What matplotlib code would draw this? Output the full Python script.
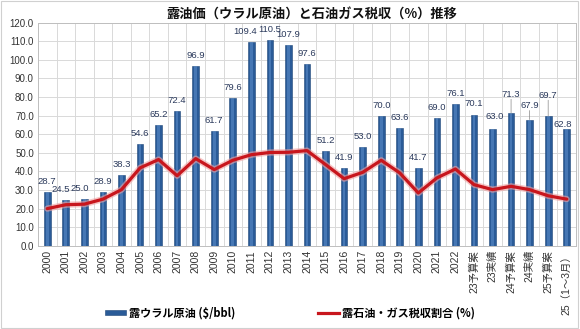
import matplotlib
matplotlib.use("Agg")
import matplotlib.pyplot as plt
import matplotlib.patheffects as pe
from matplotlib.patches import Rectangle
import numpy as np

plt.rcParams['font.family'] = ['Liberation Sans', 'Noto Sans CJK JP', 'DejaVu Sans']

categories = [str(y) for y in range(2000, 2023)] + [
    "23予算案", "23実績", "24予算案", "24実績", "25予算案", "25（1～3月）"]
urals_price = [28.7, 24.5, 25.0, 28.9, 38.3, 54.6, 65.2, 72.4, 96.9, 61.7,
               79.6, 109.4, 110.5, 107.9, 97.6, 51.2, 41.9, 53.0, 70.0, 63.6,
               41.7, 69.0, 76.1, 70.1, 63.0, 71.3, 67.9, 69.7, 62.8]
tax_share = [20.0, 22.1, 22.4, 25.1, 30.2, 41.9, 46.4, 37.7, 46.9, 41.0,
             46.0, 49.0, 50.2, 50.3, 51.2, 43.7, 36.1, 39.5, 46.0, 39.2,
             28.4, 36.5, 41.3, 32.9, 30.2, 32.0, 30.2, 26.9, 25.1]
yticks = np.arange(0, 121, 10)

# label placement tweaks (pixels): dx, dy above bar top, leader line
label_dx = {1: -5, 2: -5, 11: -6, 24: 2, 28: -4}
label_dy = {25: 19, 26: 14, 27: 21, 28: 5, 23: 12, 24: 12}
leaders = {25, 26, 27}

fig = plt.figure(figsize=(5.8, 3.29), dpi=100)
ax = fig.add_axes([38/580, 1-245.8/329, (576-38)/580, (245.8-22.7)/329])

x = np.arange(len(categories))
bw = 0.36
ax.bar(x, urals_price, width=bw, color='#2A5B98', edgecolor='#1F4677',
       linewidth=0.4, zorder=3)
ax.bar(x, urals_price, width=bw*0.4, color='#5E8FCC', alpha=0.55,
       linewidth=0, zorder=3.1)

line, = ax.plot(x, tax_share, color='#C8161D', linewidth=2.3, zorder=5,
                solid_capstyle='round', solid_joinstyle='round')
line.set_path_effects([pe.Stroke(linewidth=4.5, foreground='#F0A0A0', alpha=0.6),
                       pe.Normal()])

px = 72/100
for i, v in enumerate(urals_price):
    dx = label_dx.get(i, 0)
    dy = label_dy.get(i, 10.5)
    ax.annotate(f"{v:.1f}", (i, v), xytext=(dx*px, dy*px),
                textcoords='offset points', ha='center', va='center',
                fontsize=6.8, color='#2B3A5C', zorder=6)
    if i in leaders:
        ax.annotate("", (i, v), xytext=(0, (dy-5)*px), textcoords='offset points',
                    arrowprops=dict(arrowstyle='-', color='#888888', lw=0.5,
                                    shrinkA=0, shrinkB=0), zorder=6)

ax.set_xlim(-0.5, len(categories)-0.5)
ax.set_ylim(0, 120)
ax.set_yticks(yticks)
ax.set_yticklabels([f"{t:.1f}" for t in yticks], fontsize=7, color='#333333')
ax.set_xticks(x)
ax.set_xticklabels(categories, rotation=90, fontsize=7.5, color='#333333',
                   family=['Liberation Sans', 'Noto Sans CJK JP'])
ax.set_xticks(np.arange(-0.5, len(categories), 1), minor=True)
ax.tick_params(axis='both', which='both', length=0, pad=3)
ax.grid(True, axis='y', color='#D9D9D9', linewidth=0.7, zorder=0)
ax.grid(True, axis='x', which='minor', color='#D9D9D9', linewidth=0.7, zorder=0)
ax.grid(False, axis='x', which='major')
for s in ax.spines.values():
    s.set_color('#BFBFBF')
    s.set_linewidth(0.7)

fig.text(312/580, 1-15/329, "露油価（ウラル原油）と石油ガス税収（%）推移",
         ha='center', va='center', fontsize=9.5, fontweight='bold',
         family=['Noto Sans CJK JP'], color='#111111')

from matplotlib.patches import Patch
from matplotlib.lines import Line2D
handles = [Patch(facecolor='#2A5B98', edgecolor='#1F4677', linewidth=0.4),
           Line2D([0], [0], color='#C8161D', linewidth=2.3)]
leg = fig.legend(handles, ["露ウラル原油 ($/bbl)", "露石油・ガス税収割合 (%)"],
                 loc='center', bbox_to_anchor=(0.5, 1-313/329), ncol=2,
                 frameon=False, columnspacing=7.5, handlelength=1.9,
                 handleheight=0.4, handletextpad=0.2,
                 prop={'family': ['Noto Sans CJK JP'], 'size': 8, 'weight': 'bold'})

fig.patches.append(Rectangle((0.002, 0.003), 0.995, 0.993, transform=fig.transFigure,
                             fill=False, edgecolor='#D0D0D0', linewidth=0.8))

fig.savefig("out.png", dpi=100, facecolor='white')
